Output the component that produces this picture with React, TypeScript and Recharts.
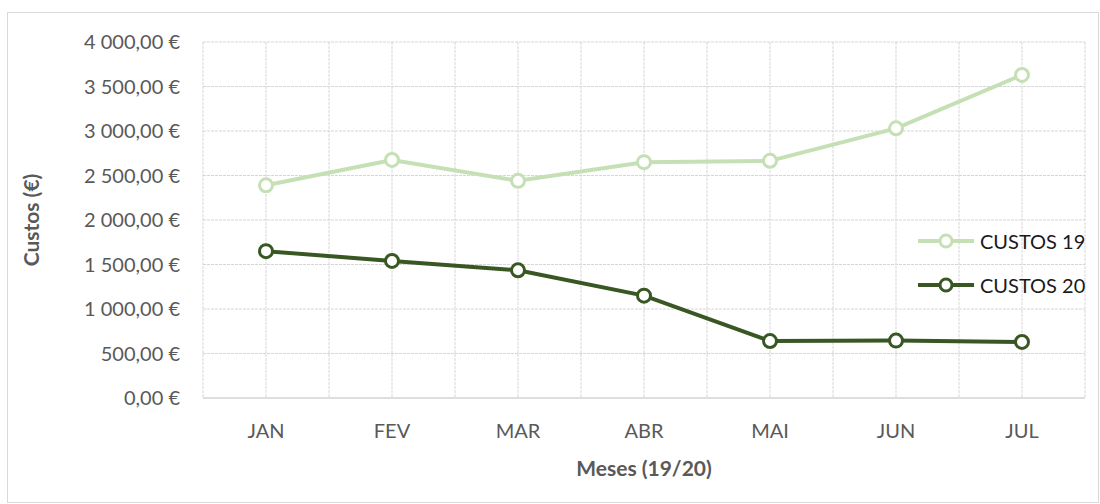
import React from 'react';
import {
  LineChart,
  Line,
  XAxis,
  YAxis,
  CartesianGrid,
  Legend,
} from 'recharts';

// values
const months = ['JAN', 'FEV', 'MAR', 'ABR', 'MAI', 'JUN', 'JUL'];
const custos19 = [2390, 2675, 2440, 2650, 2665, 3030, 3630];
const custos20 = [1650, 1540, 1435, 1150, 640, 645, 630];
const yTicks = [0, 500, 1000, 1500, 2000, 2500, 3000, 3500, 4000];

const chartData = months.map((m, i) => ({
  name: m,
  c19: custos19[i],
  c20: custos20[i],
}));

const series = [
  { key: 'c19', label: 'CUSTOS 19', color: '#c5e0b4' },
  { key: 'c20', label: 'CUSTOS 20', color: '#385723' },
];

const FONT = 'Lato, "Open Sans", sans-serif';
const GRAY = '#595959';

const formatEuro = (v: number) => {
  const [int, dec] = v.toFixed(2).split('.');
  const grouped = int.replace(/\B(?=(\d{3})+(?!\d))/g, ' ');
  return `${grouped},${dec} €`;
};

const LegendBox = () => (
  <div style={{ fontFamily: FONT, fontSize: 20, color: '#1a1a1a' }}>
    {series.map((s) => (
      <div key={s.key} style={{ display: 'flex', alignItems: 'center', height: 44 }}>
        <svg width={60} height={20} style={{ marginRight: 4 }}>
          <line x1={2} y1={10} x2={58} y2={10} stroke={s.color} strokeWidth={4} />
          <circle cx={30} cy={10} r={6} fill="#fff" stroke={s.color} strokeWidth={3} />
        </svg>
        <span>{s.label}</span>
      </div>
    ))}
  </div>
);

export default function App() {
  return (
    <div style={{ position: 'absolute', left: 0, top: 0, width: 1100, height: 504, background: '#fff' }}>
      <div
        style={{
          position: 'absolute',
          left: 7,
          top: 12,
          width: 1092,
          height: 491,
          border: '1px solid #d9d9d9',
          boxSizing: 'border-box',
        }}
      />
      <LineChart
        width={1100}
        height={504}
        data={chartData}
        margin={{ top: 42, right: 15, bottom: 16, left: 0 }}
        style={{ fontFamily: FONT }}
      >
        <CartesianGrid
          stroke="#d6d6d6"
          strokeDasharray="3 1"
          verticalCoordinatesGenerator={({ offset }: any) =>
            Array.from({ length: 15 }, (_, i) => offset.left + (i * offset.width) / 14)
          }
        />
        <XAxis
          dataKey="name"
          scale="band"
          height={90}
          axisLine={{ stroke: '#d9d9d9', strokeWidth: 1.5 }}
          tickLine={false}
          tickMargin={20}
          tick={{ fill: GRAY, fontSize: 20 }}
          label={{
            value: 'Meses (19/20)',
            position: 'insideBottom',
            offset: 12,
            style: { fill: GRAY, fontSize: 21, fontWeight: 700 },
          }}
        />
        <YAxis
          width={203}
          domain={[0, 4000]}
          ticks={yTicks}
          axisLine={false}
          tickLine={false}
          tickMargin={17}
          tickFormatter={formatEuro}
          tick={{ fill: GRAY, fontSize: 20 }}
          label={{
            value: 'Custos (€)',
            angle: -90,
            position: 'insideLeft',
            offset: 32,
            style: { fill: GRAY, fontSize: 21, fontWeight: 700, textAnchor: 'middle' },
          }}
        />
        <Legend
          layout="horizontal"
          verticalAlign="middle"
          align="center"
          wrapperStyle={{ left: 916, top: 219, width: 184 }}
          content={() => <LegendBox />}
        />
        {series.map((s) => (
          <Line
            key={s.key}
            dataKey={s.key}
            name={s.label}
            type="linear"
            stroke={s.color}
            strokeWidth={4}
            dot={{ r: 6.5, fill: '#fff', stroke: s.color, strokeWidth: 3 }}
            activeDot={false}
            isAnimationActive={false}
          />
        ))}
      </LineChart>
    </div>
  );
}
